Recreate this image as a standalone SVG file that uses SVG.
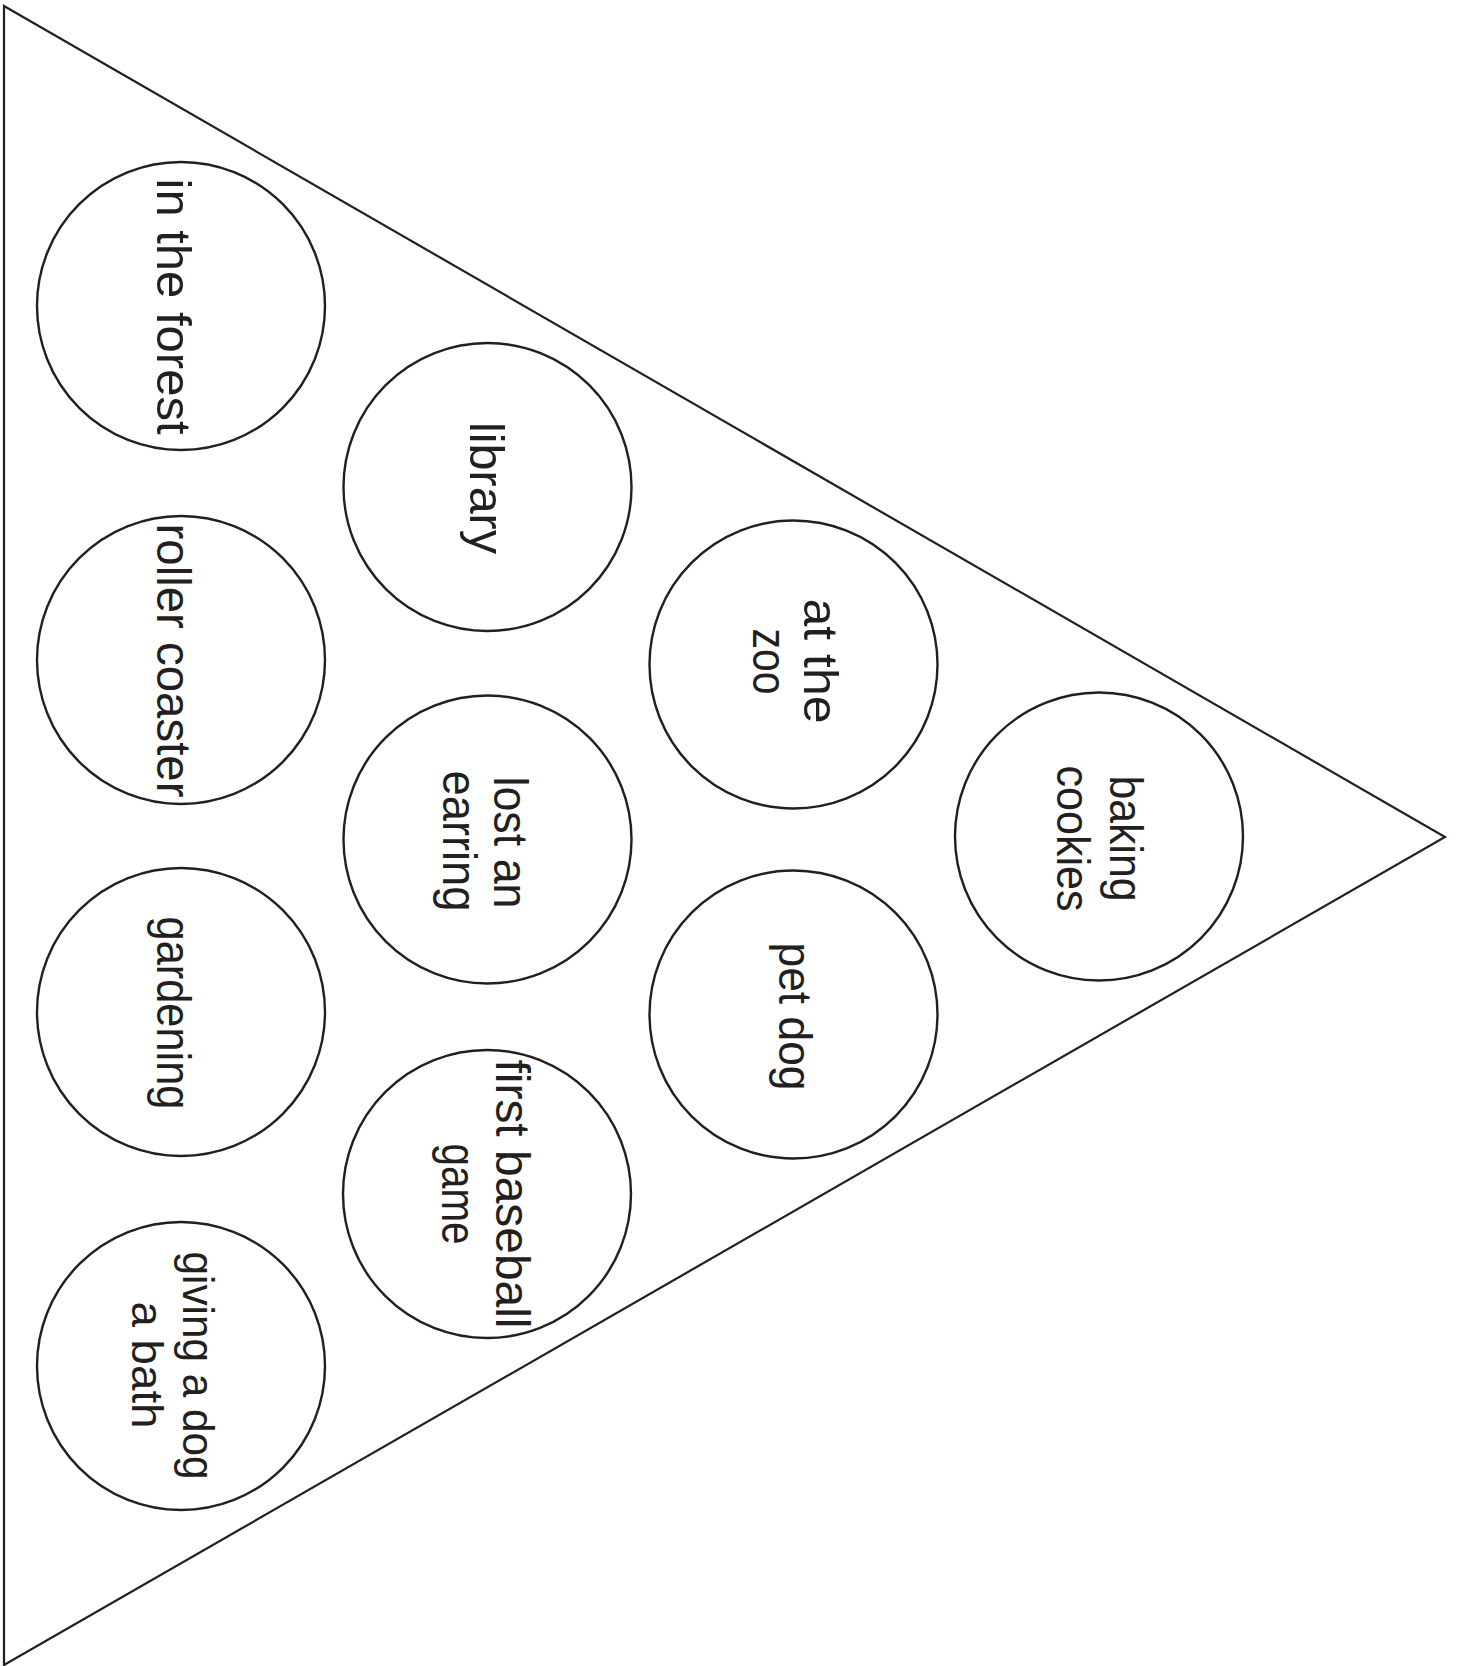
<svg xmlns="http://www.w3.org/2000/svg" width="1458" height="1666" viewBox="0 0 1458 1666">
<style>
.tri{fill:#fff;stroke:#231f20;stroke-width:2.2;stroke-linejoin:miter}
.c{fill:#fff;stroke:#231f20;stroke-width:2.4}
.t{font-family:"Liberation Sans",Arial,sans-serif;font-size:48px;fill:#231f20;text-anchor:middle}
</style>
<rect width="1458" height="1666" fill="#fff"/>
<g id="pennant">
<polygon class="tri" points="4,6 1445,837 4,1665"/>
</g>
<g id="connectors"></g>
<g id="n-forest">
<circle class="c" cx="181" cy="306" r="144"/>
<text class="t" transform="translate(157,306.5) rotate(90)" textLength="256" lengthAdjust="spacingAndGlyphs">in the forest</text>
</g>
<g id="n-roller">
<circle class="c" cx="181" cy="660" r="144"/>
<text class="t" transform="translate(157,660.5) rotate(90)" textLength="274" lengthAdjust="spacingAndGlyphs">roller coaster</text>
</g>
<g id="n-gardening">
<circle class="c" cx="181" cy="1012" r="144"/>
<text class="t" transform="translate(157,1013) rotate(90)" textLength="193" lengthAdjust="spacingAndGlyphs">gardening</text>
</g>
<g id="n-dogbath">
<circle class="c" cx="181" cy="1366" r="144"/>
<text class="t" style="font-size:45px" transform="translate(183,1365.5) rotate(90)" textLength="228" lengthAdjust="spacingAndGlyphs">giving a dog</text>
<text class="t" style="font-size:45px" transform="translate(132,1365) rotate(90)" textLength="127" lengthAdjust="spacingAndGlyphs">a bath</text>
</g>
<g id="n-library">
<circle class="c" cx="487.5" cy="487" r="144"/>
<text class="t" transform="translate(470,488) rotate(90)" textLength="132" lengthAdjust="spacingAndGlyphs">library</text>
</g>
<g id="n-earring">
<circle class="c" cx="487.5" cy="839.5" r="144"/>
<text class="t" transform="translate(494,842.5) rotate(90)" textLength="132" lengthAdjust="spacingAndGlyphs">lost an</text>
<text class="t" transform="translate(443,841) rotate(90)" textLength="141" lengthAdjust="spacingAndGlyphs">earring</text>
</g>
<g id="n-baseball">
<circle class="c" cx="487" cy="1194" r="144"/>
<text class="t" transform="translate(496,1194) rotate(90)" textLength="269" lengthAdjust="spacingAndGlyphs">first baseball</text>
<text class="t" transform="translate(442,1194) rotate(90)" textLength="101" lengthAdjust="spacingAndGlyphs">game</text>
</g>
<g id="n-zoo">
<circle class="c" cx="793.5" cy="664.5" r="144"/>
<text class="t" transform="translate(804,661) rotate(90)" textLength="125" lengthAdjust="spacingAndGlyphs">at the</text>
<text class="t" transform="translate(753,661.5) rotate(90)" textLength="66" lengthAdjust="spacingAndGlyphs">zoo</text>
</g>
<g id="n-petdog">
<circle class="c" cx="793.5" cy="1014.5" r="144"/>
<text class="t" style="font-size:47px" transform="translate(779,1016.5) rotate(90)" textLength="148" lengthAdjust="spacingAndGlyphs">pet dog</text>
</g>
<g id="n-cookies">
<circle class="c" cx="1099" cy="836.5" r="144"/>
<text class="t" style="font-size:46px" transform="translate(1110,838.5) rotate(90)" textLength="126" lengthAdjust="spacingAndGlyphs">baking</text>
<text class="t" style="font-size:46px" transform="translate(1057,838.5) rotate(90)" textLength="146" lengthAdjust="spacingAndGlyphs">cookies</text>
</g>
</svg>
